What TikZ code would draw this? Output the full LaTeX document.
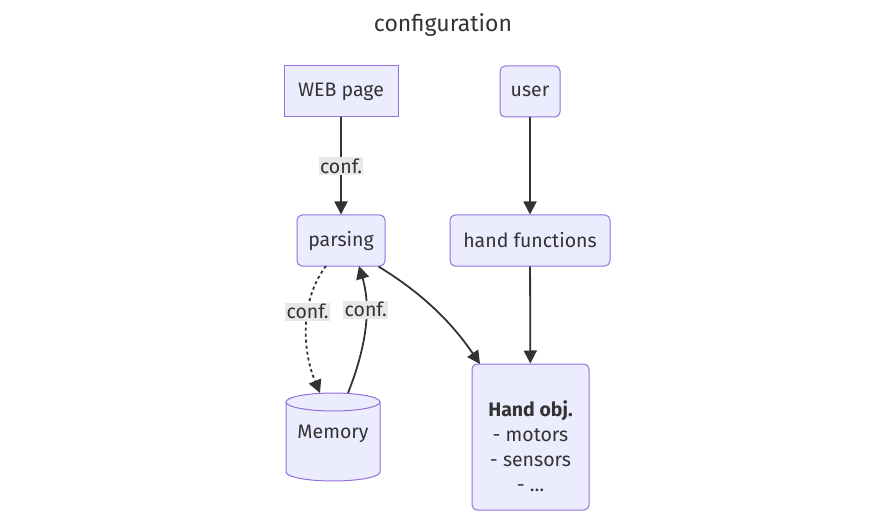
\documentclass[tikz,border=0pt]{standalone}
\usepackage{fontspec}
\setmainfont{Fira Sans}
\usetikzlibrary{arrows.meta}
\definecolor{nodefill}{HTML}{ECECFF}
\definecolor{nodeline}{HTML}{9370DB}
\definecolor{ink}{HTML}{333333}
\definecolor{lblbg}{HTML}{E8E8E8}
\begin{document}
\begin{tikzpicture}[x=1pt,y=-1pt,
  every node/.style={font=\fontsize{19.5}{25}\selectfont, text=ink},
  box/.style={draw=nodeline, fill=nodefill, line width=1pt, inner sep=0pt, align=center},
  rbox/.style={box, rounded corners=5pt},
  edge/.style={draw=ink, line width=1.8pt, -{Triangle[length=13pt,width=13pt]}},
  lbl/.style={fill=lblbg, inner sep=1.5pt, text=ink}]
\useasboundingbox (0,0) rectangle (885,521);
\node (title) at (443,25) {\fontsize{23}{28}\selectfont configuration};
\node[box, minimum width=114pt, minimum height=51pt] (web) at (341,91.5) {WEB page};
\node[rbox, minimum width=60pt, minimum height=51pt] (user) at (530,91.5) {user};
\node[rbox, minimum width=88pt, minimum height=51pt] (parsing) at (341,240.5) {parsing};
\node[rbox, minimum width=160pt, minimum height=51pt] (hf) at (530,240.5) {hand functions};
\node[rbox, minimum width=117pt, minimum height=146pt] (obj) at (530.5,437) {};
\node[align=center, inner sep=0pt] (objtext) at (530.5,446) {\textbf{Hand obj.}\\- motors\\- sensors\\- \dots};
% cylinder
\node[minimum width=94pt, minimum height=88pt, inner sep=0pt] (mem) at (333,437) {};
\draw[draw=nodeline, fill=nodefill, line width=1pt]
  (286,402) -- (286,472) arc[start angle=180, end angle=0, x radius=47, y radius=9]
  -- (380,402) arc[start angle=0, end angle=-180, x radius=47, y radius=9] -- cycle;
\draw[draw=nodeline, line width=1pt] (286,402) arc[start angle=180, end angle=0, x radius=47, y radius=9];
\node (memtext) at (333,434) {Memory};
% edges
\draw[edge] (web) -- node[lbl] {conf.} (parsing);
\draw[edge] (user) -- (hf);
\draw[edge] (hf) -- (obj);
\draw[edge] (parsing.south east) ++(-7,0) coordinate (pa) .. controls (420,292) and (450,320) .. (480,364);
\coordinate (ms) at (320,393);
\coordinate (ps) at (326,266);
\draw[edge, dash pattern=on 3pt off 3pt] (ps) .. controls (300,300) and (302,350) .. node[pos=0.39, lbl, solid] {conf.} (ms);
\coordinate (mt) at (348,393);
\coordinate (pt) at (359,266);
\draw[edge] (mt) .. controls (365,350) and (372,310) .. node[pos=0.66, lbl] {conf.} (pt);
\end{tikzpicture}
\end{document}
